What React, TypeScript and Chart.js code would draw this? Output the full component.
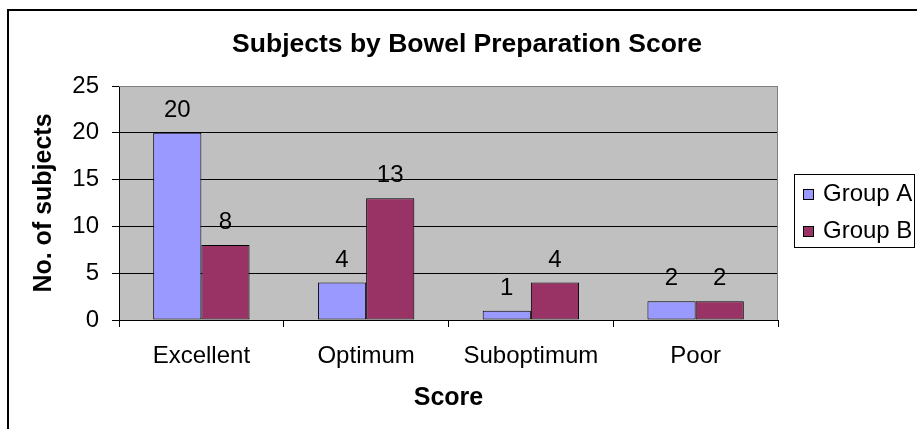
import React, { useEffect, useRef } from "react";
import { Chart, registerables } from "chart.js";

Chart.register(...registerables);

// ---- Data ----
const CHART_TITLE = "Subjects by Bowel Preparation Score";
const CATEGORIES = ["Excellent", "Optimum", "Suboptimum", "Poor"];
const SERIES_NAMES = ["Group A", "Group B"];
const GROUP_A = [20, 4, 1, 2];
const GROUP_B = [8, 13, 4, 2];
const Y_MIN = 0;
const Y_MAX = 25;
const Y_STEP = 5;
const X_TITLE = "Score";
const Y_TITLE = "No. of subjects";

// ---- Styles ----
const COLORS = ["#9999FF", "#993366"];
const FONT = "'Liberation Sans', Arial, Helvetica, sans-serif";

export default function App() {
  const ref = useRef<HTMLCanvasElement>(null);

  useEffect(() => {
    const canvas = ref.current;
    if (!canvas) return;

    const decor = {
      id: "decor",
      beforeDraw(chart: any) {
        const { ctx, chartArea: a } = chart;
        ctx.save();
        ctx.fillStyle = "#FFFFFF";
        ctx.fillRect(0, 0, chart.width, chart.height);
        ctx.fillStyle = "#C0C0C0";
        ctx.fillRect(a.left, a.top, a.right - a.left, a.bottom - a.top);
        // outer chart border (cropped at right/bottom)
        ctx.strokeStyle = "#000000";
        ctx.lineWidth = 2;
        ctx.strokeRect(8, 10, chart.width + 20, chart.height + 20);
        // title
        ctx.fillStyle = "#000000";
        ctx.font = `bold 26.5px ${FONT}`;
        ctx.textAlign = "center";
        ctx.textBaseline = "alphabetic";
        ctx.fillText(CHART_TITLE, 467, 52);
        ctx.restore();
      },
      beforeDatasetsDraw(chart: any) {
        const { ctx, chartArea: a } = chart;
        ctx.save();
        ctx.strokeStyle = "#808080";
        ctx.lineWidth = 1;
        ctx.beginPath();
        ctx.moveTo(a.left, a.top + 0.5);
        ctx.lineTo(a.right - 0.5, a.top + 0.5);
        ctx.lineTo(a.right - 0.5, a.bottom);
        ctx.stroke();
        ctx.restore();
      },
      afterDatasetsDraw(chart: any) {
        const { ctx } = chart;
        ctx.save();
        ctx.fillStyle = "#000000";
        ctx.font = `24px ${FONT}`;
        ctx.textAlign = "center";
        ctx.textBaseline = "alphabetic";
        chart.data.datasets.forEach((ds: any, i: number) => {
          const meta = chart.getDatasetMeta(i);
          meta.data.forEach((el: any, j: number) => {
            ctx.fillText(String(ds.data[j]), el.x, el.y - 16);
          });
        });
        ctx.restore();
      },
      afterDraw(chart: any) {
        const { ctx } = chart;
        ctx.save();
        // legend box
        ctx.fillStyle = "#FFFFFF";
        ctx.fillRect(794, 174, 121, 74);
        ctx.strokeStyle = "#000000";
        ctx.lineWidth = 1;
        ctx.strokeRect(794.5, 174.5, 120, 73);
        ctx.font = `24px ${FONT}`;
        ctx.textAlign = "left";
        ctx.textBaseline = "middle";
        chart.data.datasets.forEach((ds: any, i: number) => {
          const y = 194 + i * 37;
          ctx.fillStyle = ds.backgroundColor;
          ctx.fillRect(803, y - 5, 10, 10);
          ctx.strokeStyle = "#000000";
          ctx.strokeRect(803.5, y - 4.5, 10, 10);
          ctx.fillStyle = "#000000";
          ctx.fillText(ds.label, 823, y);
        });
        ctx.restore();
      },
    };

    const chart = new Chart(canvas, {
      type: "bar",
      data: {
        labels: CATEGORIES,
        datasets: [
          {
            label: SERIES_NAMES[0],
            data: GROUP_A,
            backgroundColor: COLORS[0],
            borderColor: "#000000",
            borderWidth: 1,
            borderSkipped: false,
          },
          {
            label: SERIES_NAMES[1],
            data: GROUP_B,
            backgroundColor: COLORS[1],
            borderColor: "#000000",
            borderWidth: 1,
            borderSkipped: false,
          },
        ],
      },
      options: {
        responsive: false,
        animation: false,
        devicePixelRatio: 1,
        layout: { padding: { top: 86, right: 139, bottom: 0, left: 0 } },
        datasets: {
          bar: { categoryPercentage: 0.585, barPercentage: 1 },
        },
        plugins: {
          legend: { display: false },
          title: { display: false },
          tooltip: { enabled: false },
        },
        scales: {
          x: {
            afterFit: (s: any) => {
              s.height = 109;
            },
            grid: {
              display: true,
              drawOnChartArea: false,
              drawTicks: true,
              tickLength: 7,
              color: "#000000",
              offset: true,
            },
            border: { display: true, color: "#000000", width: 1 },
            ticks: {
              color: "#000000",
              font: { family: FONT, size: 24 },
              padding: 15,
              maxRotation: 0,
              autoSkip: false,
            },
            title: {
              display: true,
              text: X_TITLE,
              color: "#000000",
              font: { family: FONT, size: 25, weight: "bold" },
              padding: { top: 0, bottom: 16 },
            },
          },
          y: {
            min: Y_MIN,
            max: Y_MAX,
            afterFit: (s: any) => {
              s.width = 119;
            },
            grid: {
              display: true,
              drawTicks: true,
              tickLength: 7,
              color: (c: any) => (c.tick && c.tick.value === Y_MAX ? "#808080" : "#000000"),
              tickColor: "#000000",
            },
            border: { display: true, color: "#000000", width: 1 },
            ticks: {
              stepSize: Y_STEP,
              color: "#000000",
              font: { family: FONT, size: 24 },
              padding: 13,
            },
            title: {
              display: true,
              text: Y_TITLE,
              color: "#000000",
              font: { family: FONT, size: 25, weight: "bold" },
              padding: { top: 29, bottom: 0 },
            },
          },
        },
      },
      plugins: [decor],
    });

    return () => chart.destroy();
  }, []);

  return (
    <canvas
      ref={ref}
      width={917}
      height={429}
      style={{ position: "absolute", left: 0, top: 0, display: "block" }}
    />
  );
}
